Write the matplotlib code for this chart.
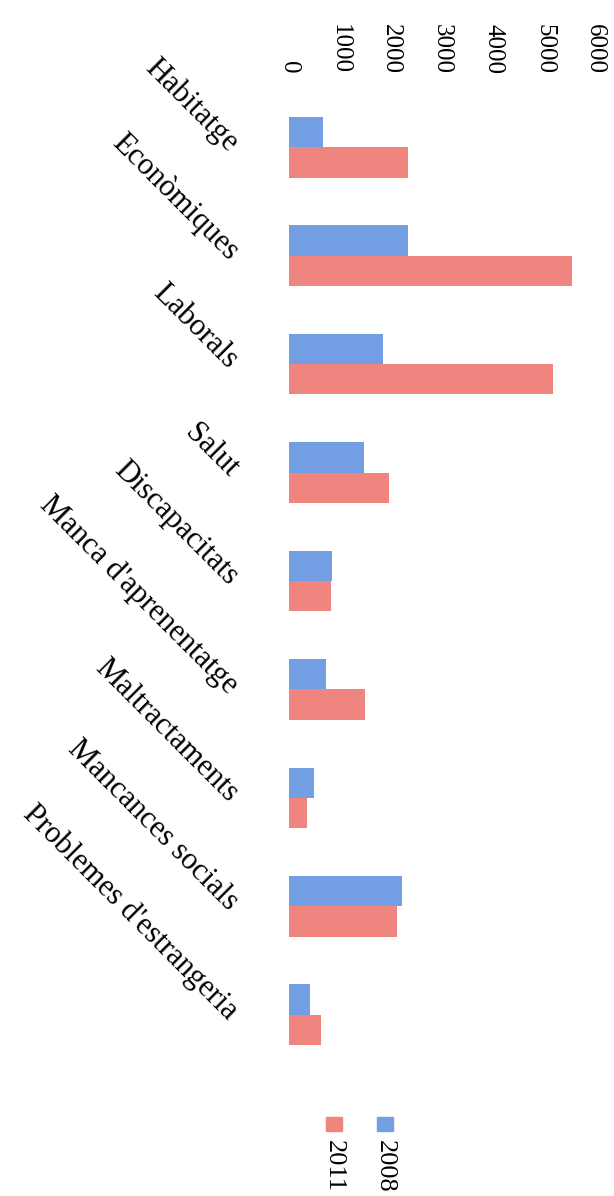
import matplotlib.pyplot as plt
import numpy as np
from matplotlib.patches import Rectangle

plt.rcParams["font.family"] = ["Liberation Serif", "DejaVu Serif"]

# ~~~~~ data ~~~~~
categories = ["Habitatge", "Econòmiques", "Laborals", "Salut", "Discapacitats",
              "Manca d'aprenentatge", "Maltractaments", "Mancances socials",
              "Problemes d'estrangeria"]
vals_2008 = [670, 2330, 1850, 1480, 845, 720, 490, 2210, 405]
vals_2011 = [2330, 5550, 5180, 1970, 815, 1490, 350, 2120, 620]
years = ["2008", "2011"]
ticks = [0, 1000, 2000, 3000, 4000, 5000, 6000]

colors = ["#739EE4", "#F0847F"]

W, H = 614, 1196
fig = plt.figure(figsize=(W / 100, H / 100), dpi=100)
ax = fig.add_axes([289 / W, 1 - 1069 / H, 306 / W, 976 / H])

y = np.arange(len(categories))
h = 0.28
ax.barh(y - h / 2, vals_2008, height=h, color=colors[0], label=years[0])
ax.barh(y + h / 2, vals_2011, height=h, color=colors[1], label=years[1])

ax.set_xlim(0, 6000)
ax.set_ylim(len(categories) - 0.5, -0.5)
ax.xaxis.tick_top()
ax.set_xticks(ticks)
ax.set_xticklabels([str(t) for t in ticks])
ax.tick_params(axis="x", length=0, pad=14, labelsize=18, labelrotation=-90)

ax.set_yticks(y)
ax.set_yticklabels(categories, rotation=-45, ha="right", va="center",
                   rotation_mode="anchor", fontsize=22)
ax.tick_params(axis="y", length=0, pad=40)
for s in ax.spines.values():
    s.set_visible(False)

# ~~~~~ legend, drawn by hand so the labels can stand rotated under the keys ~~~~~
for name, col, xc in zip(years, colors, [385, 334]):
    fig.add_artist(Rectangle(((xc - 8) / W, 1 - 1131 / H), 16 / W, 14 / H,
                             transform=fig.transFigure, color=col))
    fig.text(xc / W, 1 - 1140 / H, name, rotation=-90, ha="center", va="top",
             fontsize=19)

fig.savefig("out.png", dpi=100)
